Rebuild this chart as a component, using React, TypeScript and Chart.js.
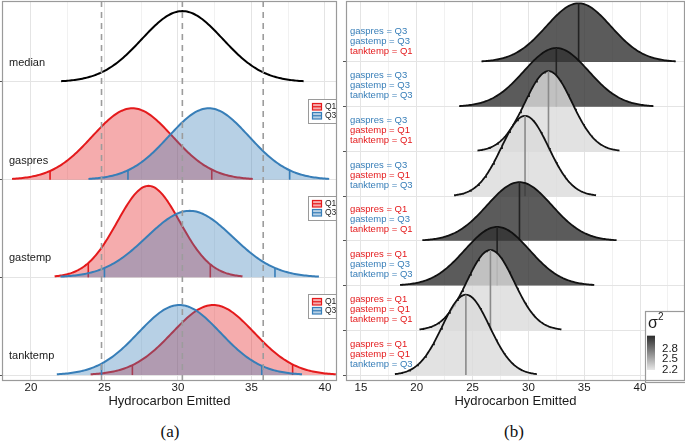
import React, { useEffect, useRef } from 'react';
import { Chart, registerables } from 'chart.js';

Chart.register(...registerables);
Chart.defaults.font.family = '"Liberation Sans", Arial, Helvetica, sans-serif';

// ---------------- Panel (a) data ----------------
const A_VARS = ['median', 'gaspres', 'gastemp', 'tanktemp']; // top to bottom
const A_MEDIAN_MEAN = 30.3;
const A_MEDIAN_SD = 2.75;
// order: gaspres, gastemp, tanktemp
const A_Q1_MEAN = [26.9, 28.0, 32.4];
const A_Q1_SD = [2.73, 2.13, 2.78];
const A_Q3_MEAN = [32.1, 30.8, 30.1];
const A_Q3_SD = [2.73, 2.93, 2.78];
const A_Q1_LOW = [21.3, 23.9, 26.9];
const A_Q1_HIGH = [32.3, 32.2, 37.8];
const A_Q3_LOW = [26.6, 25.0, 24.8];
const A_Q3_HIGH = [37.6, 36.6, 35.7];
const A_REF_LINES = [24.8, 30.3, 35.8];
const A_X_TICKS = [20, 22.5, 25, 27.5, 30, 32.5, 35, 37.5, 40];
const A_X_LABELS = ['20', '', '25', '', '30', '', '35', '', '40'];
const A_LEGEND_LABELS = ['Q1', 'Q3'];

// ---------------- Panel (b) data (top to bottom) ----------------
const B_GASPRES = ['Q3', 'Q3', 'Q3', 'Q3', 'Q1', 'Q1', 'Q1', 'Q1'];
const B_GASTEMP = ['Q3', 'Q3', 'Q1', 'Q1', 'Q3', 'Q3', 'Q1', 'Q1'];
const B_TANKTEMP = ['Q1', 'Q3', 'Q1', 'Q3', 'Q1', 'Q3', 'Q1', 'Q3'];
const B_MEAN = [34.5, 32.5, 31.8, 29.7, 29.2, 27.2, 26.6, 24.4];
const B_SD = [2.9, 2.9, 2.12, 2.12, 2.9, 2.9, 2.12, 2.12];
const B_SIGMA2 = [3.15, 3.15, 2.24, 2.24, 3.15, 3.15, 2.24, 2.24];
const B_X_TICKS = [15, 17.5, 20, 22.5, 25, 27.5, 30, 32.5, 35, 37.5, 40, 42.5];
const B_X_LABELS = ['15', '', '20', '', '25', '', '30', '', '35', '', '40', ''];
const B_LEGEND_TICKS = [2.2, 2.5, 2.8];

// ---------------- styling / layout ----------------
const RED = '#E41A1C';
const BLUE = '#377EB8';
const RED_FILL = 'rgba(228,26,28,0.36)';
const BLUE_FILL = 'rgba(55,126,184,0.36)';
const A_SCALE = 5.0;
const B_SCALE = 9.54;
const A_Y_MIN = -0.061;
const A_Y_MAX = 3.829;
const B_Y_MIN = -0.134;
const B_Y_MAX = 8.364;
const SIG_MIN = 2.17;
const SIG_MAX = 3.18;
const FONT = '"Liberation Sans", Arial, Helvetica, sans-serif';

function normalPdf(x: number, m: number, s: number) {
  const z = (x - m) / s;
  return Math.exp(-0.5 * z * z) / (s * Math.sqrt(2 * Math.PI));
}
function ridgePoints(m: number, s: number, row: number, scale: number) {
  const pts: { x: number; y: number }[] = [];
  const n = 160;
  for (let i = 0; i <= n; i++) {
    const x = m - 3 * s + (6 * s * i) / n;
    pts.push({ x, y: row + scale * normalPdf(x, m, s) });
  }
  return pts;
}
function sigGray(v: number) {
  const t = Math.max(0, Math.min(1, (v - SIG_MIN) / (SIG_MAX - SIG_MIN)));
  return Math.round(232 - t * (232 - 44));
}

const borderPlugin = {
  id: 'panelBorder',
  afterDraw(chart: any) {
    const { left, top, right, bottom } = chart.chartArea;
    const ctx = chart.ctx;
    ctx.save();
    ctx.strokeStyle = '#9a9a9a';
    ctx.lineWidth = 1.2;
    ctx.strokeRect(left + 0.5, top + 0.5, right - left - 1, bottom - top - 1);
    ctx.restore();
  },
};

function xScale(min: number, max: number, ticks: number[], labels: string[]) {
  return {
    type: 'linear',
    min,
    max,
    afterBuildTicks: (axis: any) => {
      axis.ticks = ticks.map((v) => ({ value: v }));
    },
    afterFit: (axis: any) => {
      axis.height = 29;
    },
    ticks: {
      callback: (_v: any, i: number) => labels[i],
      font: { size: 11.5, lineHeight: 1 },
      color: '#1a1a1a',
      padding: 1,
      maxRotation: 0,
      autoSkip: false,
    },
    grid: {
      drawTicks: false,
      color: (c: any) => (c.tick && c.tick.value % 5 === 0 ? '#e4e4e4' : '#f1f1f1'),
      lineWidth: 1,
    },
    border: { display: false },
    title: {
      display: true,
      text: 'Hydrocarbon Emitted',
      font: { size: 13, lineHeight: 1.2 },
      color: '#1a1a1a',
      padding: { top: 0, bottom: 1 },
    },
  };
}

function PanelA() {
  const ref = useRef<HTMLCanvasElement>(null);
  useEffect(() => {
    const nRows = A_VARS.length;
    const rowOf = (i: number) => nRows - 1 - i;
    const datasets: any[] = [];
    let order = 1000;
    const push = (d: any) =>
      datasets.push({ pointRadius: 0, pointHoverRadius: 0, tension: 0, fill: false, order: order--, ...d });

    push({ data: ridgePoints(A_MEDIAN_MEAN, A_MEDIAN_SD, rowOf(0), A_SCALE), borderColor: '#000', borderWidth: 2 });
    for (let k = 0; k < 3; k++) {
      const row = rowOf(k + 1);
      const groups = [
        { mean: A_Q1_MEAN[k], sd: A_Q1_SD[k], lo: A_Q1_LOW[k], hi: A_Q1_HIGH[k], line: RED, fill: RED_FILL },
        { mean: A_Q3_MEAN[k], sd: A_Q3_SD[k], lo: A_Q3_LOW[k], hi: A_Q3_HIGH[k], line: BLUE, fill: BLUE_FILL },
      ];
      groups.forEach((g) => {
        push({
          data: ridgePoints(g.mean, g.sd, row, A_SCALE),
          borderColor: g.line,
          backgroundColor: g.fill,
          borderWidth: 2,
          fill: { value: row },
        });
        [g.lo, g.hi].forEach((q) =>
          push({
            data: [
              { x: q, y: row },
              { x: q, y: row + A_SCALE * normalPdf(q, g.mean, g.sd) },
            ],
            borderColor: g.line,
            borderWidth: 1.6,
          })
        );
      });
    }
    A_REF_LINES.forEach((x) =>
      push({
        data: [
          { x, y: A_Y_MIN },
          { x, y: A_Y_MAX },
        ],
        borderColor: '#9c9c9c',
        borderWidth: 1.6,
        borderDash: [6, 5],
      })
    );

    const namesPlugin = {
      id: 'aNames',
      afterDatasetsDraw(chart: any) {
        const ctx = chart.ctx;
        const y = chart.scales.y;
        const left = chart.chartArea.left;
        ctx.save();
        ctx.font = `11px ${FONT}`;
        ctx.fillStyle = '#1a1a1a';
        ctx.textBaseline = 'middle';
        ctx.textAlign = 'left';
        A_VARS.forEach((name, i) => {
          ctx.fillText(name, left + 7, y.getPixelForValue(rowOf(i)) - 19);
        });
        ctx.restore();
      },
    };

    const legendPlugin = {
      id: 'aLegend',
      afterDraw(chart: any) {
        const ctx = chart.ctx;
        const y = chart.scales.y;
        const right = chart.chartArea.right;
        ctx.save();
        for (let k = 0; k < 3; k++) {
          const row = rowOf(k + 1);
          const top = Math.round(y.getPixelForValue(row + 0.83));
          const left = right - 29;
          ctx.fillStyle = '#fff';
          ctx.fillRect(left, top, 29, 24);
          ctx.strokeStyle = '#9a9a9a';
          ctx.lineWidth = 1;
          ctx.strokeRect(left + 0.5, top + 0.5, 28, 24);
          const cols = [
            [RED, RED_FILL],
            [BLUE, BLUE_FILL],
          ];
          cols.forEach(([line, fill], j) => {
            const sy = top + 4 + j * 9;
            ctx.fillStyle = fill;
            ctx.fillRect(left + 4, sy, 10, 7);
            ctx.strokeStyle = line;
            ctx.lineWidth = 1.2;
            ctx.strokeRect(left + 4.5, sy + 0.5, 9, 6.5);
            ctx.beginPath();
            ctx.moveTo(left + 4.5, sy + 3.75);
            ctx.lineTo(left + 13.5, sy + 3.75);
            ctx.stroke();
            ctx.fillStyle = '#1a1a1a';
            ctx.font = `8.5px ${FONT}`;
            ctx.textBaseline = 'middle';
            ctx.textAlign = 'left';
            ctx.fillText(A_LEGEND_LABELS[j], left + 17, sy + 4);
          });
        }
        ctx.restore();
      },
    };

    const chart = new Chart(ref.current as HTMLCanvasElement, {
      type: 'line',
      data: { datasets },
      options: {
        responsive: false,
        maintainAspectRatio: false,
        devicePixelRatio: 1,
        animation: false,
        events: [],
        layout: { padding: { left: 0, top: 1, right: 5, bottom: 0 } },
        plugins: { legend: { display: false }, tooltip: { enabled: false } },
        scales: {
          x: xScale(18.03, 40.82, A_X_TICKS, A_X_LABELS) as any,
          y: {
            type: 'linear',
            min: A_Y_MIN,
            max: A_Y_MAX,
            afterBuildTicks: (axis: any) => {
              axis.ticks = A_VARS.map((_, i) => ({ value: rowOf(i) }));
            },
            afterFit: (axis: any) => {
              axis.width = 2;
            },
            ticks: { display: false },
            grid: { color: '#e4e4e4', tickLength: 2, tickColor: '#555', drawTicks: true },
            border: { display: false },
          },
        },
      },
      plugins: [namesPlugin, legendPlugin, borderPlugin],
    });
    return () => chart.destroy();
  }, []);
  return (
    <canvas
      ref={ref}
      width={342}
      height={410}
      style={{ position: 'absolute', left: 0, top: 0, width: 342, height: 410, display: 'block' }}
    />
  );
}

function PanelB() {
  const ref = useRef<HTMLCanvasElement>(null);
  useEffect(() => {
    const nRows = B_MEAN.length;
    const rowOf = (i: number) => nRows - 1 - i;
    const datasets: any[] = [];
    let order = 1000;
    const push = (d: any) =>
      datasets.push({ pointRadius: 0, pointHoverRadius: 0, tension: 0, fill: false, order: order--, ...d });

    B_MEAN.forEach((m, i) => {
      const row = rowOf(i);
      const s = B_SD[i];
      const g = sigGray(B_SIGMA2[i]);
      push({
        data: ridgePoints(m, s, row, B_SCALE),
        borderColor: '#111',
        backgroundColor: `rgba(${g},${g},${g},0.8)`,
        borderWidth: 1.8,
        fill: { value: row },
      });
      push({
        data: [
          { x: m, y: row },
          { x: m, y: row + B_SCALE * normalPdf(m, m, s) },
        ],
        borderColor: g < 140 ? '#222' : '#8a8a8a',
        borderWidth: 1.6,
      });
    });

    const labelPlugin = {
      id: 'bLabels',
      afterDatasetsDraw(chart: any) {
        const ctx = chart.ctx;
        const y = chart.scales.y;
        const left = chart.chartArea.left;
        ctx.save();
        ctx.font = `9.5px ${FONT}`;
        ctx.textBaseline = 'middle';
        ctx.textAlign = 'left';
        B_MEAN.forEach((_, i) => {
          const base = y.getPixelForValue(rowOf(i));
          const lines: [string, string][] = [
            ['gaspres', B_GASPRES[i]],
            ['gastemp', B_GASTEMP[i]],
            ['tanktemp', B_TANKTEMP[i]],
          ];
          lines.forEach(([name, lvl], j) => {
            ctx.fillStyle = lvl === 'Q1' ? RED : BLUE;
            ctx.fillText(`${name} = ${lvl}`, left + 4, base - 31 + j * 10);
          });
        });
        ctx.restore();
      },
    };

    const legendPlugin = {
      id: 'bLegend',
      afterDraw(chart: any) {
        const ctx = chart.ctx;
        const { right, bottom } = chart.chartArea;
        const bx = right - 40;
        const by = bottom - 70;
        ctx.save();
        ctx.fillStyle = '#fff';
        ctx.fillRect(bx, by, 41, 71);
        ctx.strokeStyle = '#9a9a9a';
        ctx.lineWidth = 1.2;
        ctx.strokeRect(bx + 0.5, by + 0.5, 41, 71);
        ctx.fillStyle = '#1a1a1a';
        ctx.textAlign = 'left';
        ctx.textBaseline = 'alphabetic';
        ctx.font = `16px ${FONT}`;
        ctx.fillText('σ', bx + 3, by + 17);
        ctx.font = `10px ${FONT}`;
        ctx.fillText('2', bx + 13, by + 9);
        // colour bar
        const pix = (v: number) => by + 58 - (v - 2.2) * 34;
        const yTop = pix(SIG_MAX);
        const yBot = pix(SIG_MIN);
        const grad = ctx.createLinearGradient(0, yBot, 0, yTop);
        const gLo = sigGray(SIG_MIN);
        const gHi = sigGray(SIG_MAX);
        grad.addColorStop(0, `rgb(${gLo},${gLo},${gLo})`);
        grad.addColorStop(1, `rgb(${gHi},${gHi},${gHi})`);
        ctx.fillStyle = grad;
        ctx.fillRect(bx + 2, yTop, 8, yBot - yTop);
        ctx.font = `11.5px ${FONT}`;
        ctx.textBaseline = 'middle';
        ctx.fillStyle = '#1a1a1a';
        B_LEGEND_TICKS.forEach((v) => {
          ctx.fillText(v.toFixed(1), bx + 17, pix(v) + 0.5);
        });
        ctx.restore();
      },
    };

    const chart = new Chart(ref.current as HTMLCanvasElement, {
      type: 'line',
      data: { datasets },
      options: {
        responsive: false,
        maintainAspectRatio: false,
        devicePixelRatio: 1,
        animation: false,
        events: [],
        layout: { padding: { left: 1, top: 1, right: 0, bottom: 0 } },
        plugins: { legend: { display: false }, tooltip: { enabled: false } },
        scales: {
          x: xScale(13.66, 44.03, B_X_TICKS, B_X_LABELS) as any,
          y: {
            type: 'linear',
            min: B_Y_MIN,
            max: B_Y_MAX,
            afterBuildTicks: (axis: any) => {
              axis.ticks = B_MEAN.map((_, i) => ({ value: rowOf(i) }));
            },
            afterFit: (axis: any) => {
              axis.width = 3;
            },
            ticks: { display: false },
            grid: { color: '#e4e4e4', tickLength: 3, tickColor: '#555', drawTicks: true },
            border: { display: false },
          },
        },
      },
      plugins: [labelPlugin, legendPlugin, borderPlugin],
    });
    return () => chart.destroy();
  }, []);
  return (
    <canvas
      ref={ref}
      width={343}
      height={410}
      style={{ position: 'absolute', left: 342, top: 0, width: 343, height: 410, display: 'block' }}
    />
  );
}

export default function App() {
  const cap = {
    position: 'absolute' as const,
    top: 421,
    height: 22,
    lineHeight: '22px',
    textAlign: 'center' as const,
    fontFamily: '"Liberation Serif", "DejaVu Serif", serif',
    fontSize: 17,
    color: '#111',
  };
  return (
    <div
      style={{
        position: 'fixed',
        left: 0,
        top: 0,
        width: 685,
        height: 443,
        background: '#fff',
        overflow: 'hidden',
      }}
    >
      <PanelA />
      <PanelB />
      <div style={{ ...cap, left: 0, width: 340 }}>(a)</div>
      <div style={{ ...cap, left: 342, width: 344 }}>(b)</div>
    </div>
  );
}
